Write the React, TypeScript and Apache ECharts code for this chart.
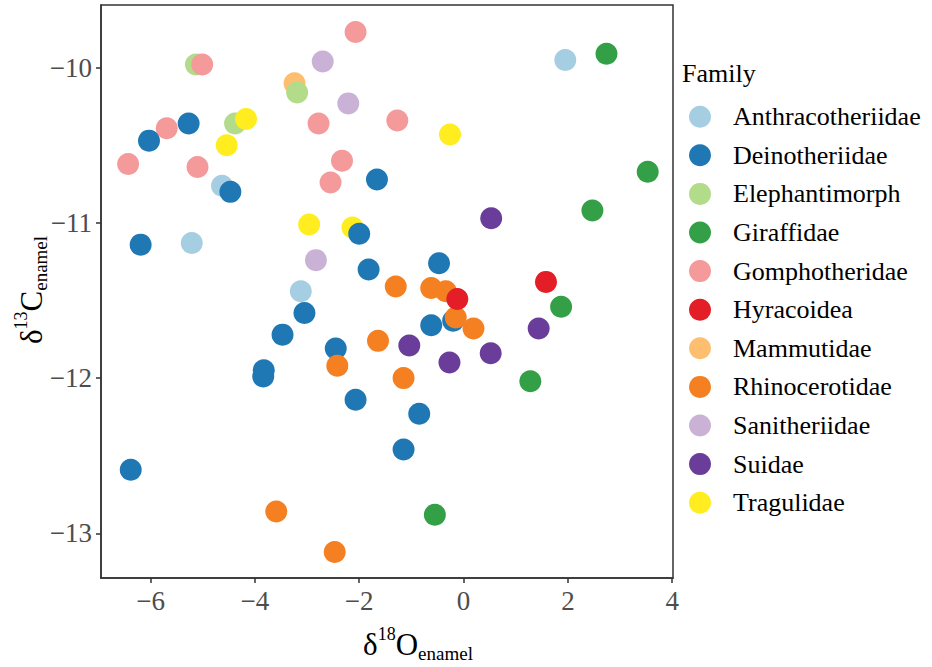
import React, { useEffect, useRef } from "react";
import * as echarts from "echarts";

const families = [
  "Anthracotheriidae",
  "Deinotheriidae",
  "Elephantimorph",
  "Giraffidae",
  "Gomphotheridae",
  "Hyracoidea",
  "Mammutidae",
  "Rhinocerotidae",
  "Sanitheriidae",
  "Suidae",
  "Tragulidae",
];

const colors: Record<string, string> = {
  Anthracotheriidae: "#A6CEE3",
  Deinotheriidae: "#1F78B4",
  Elephantimorph: "#B2DB8A",
  Giraffidae: "#33A047",
  Gomphotheridae: "#F59A9A",
  Hyracoidea: "#E31E26",
  Mammutidae: "#FDBF6F",
  Rhinocerotidae: "#F58021",
  Sanitheriidae: "#CAB2D6",
  Suidae: "#6A3D9A",
  Tragulidae: "#FFED1F",
};

// [d18O, d13C]
const anthracotheriidae = [[-4.63, -10.76], [-5.21, -11.13], [-3.12, -11.44], [1.95, -9.95]];
const deinotheriidae = [
  [-5.27, -10.36], [-6.03, -10.47], [-4.47, -10.8], [-1.66, -10.72], [-6.19, -11.14],
  [-2.0, -11.07], [-1.82, -11.3], [-0.47, -11.26], [-3.05, -11.58], [-3.47, -11.72],
  [-2.45, -11.81], [-3.83, -11.95], [-3.84, -11.99], [-2.07, -12.14], [-0.62, -11.66],
  [-0.2, -11.63], [-0.85, -12.23], [-1.15, -12.46], [-6.38, -12.59],
];
const elephantimorph = [[-5.13, -9.98], [-3.19, -10.16], [-4.38, -10.36]];
const giraffidae = [[2.74, -9.91], [3.53, -10.67], [2.47, -10.92], [1.87, -11.54], [1.28, -12.02], [-0.55, -12.88]];
const gomphotheridae = [
  [-5.01, -9.98], [-2.07, -9.77], [-2.78, -10.36], [-1.27, -10.34], [-5.69, -10.39],
  [-6.43, -10.62], [-5.1, -10.64], [-2.33, -10.6], [-2.55, -10.74],
];
const hyracoidea = [[1.58, -11.38], [-0.12, -11.49]];
const mammutidae = [[-3.24, -10.1]];
const rhinocerotidae = [
  [-1.3, -11.41], [-0.62, -11.42], [-0.34, -11.44], [-0.15, -11.61], [0.19, -11.68],
  [-1.64, -11.76], [-2.42, -11.92], [-1.15, -12.0], [-3.59, -12.86], [-2.47, -13.12],
];
const sanitheriidae = [[-2.7, -9.96], [-2.21, -10.23], [-2.83, -11.24]];
const suidae = [[0.53, -10.97], [1.44, -11.68], [-1.04, -11.79], [0.52, -11.84], [-0.27, -11.9]];
const tragulidae = [[-4.17, -10.33], [-4.54, -10.5], [-2.96, -11.01], [-2.13, -11.03], [-0.26, -10.43]];

const xTicks = [-6, -4, -2, 0, 2, 4];
const yTicks = [-13, -12, -11, -10];

// drawing order (later on top)
const drawOrder: [string, number[][]][] = [
  ["Anthracotheriidae", anthracotheriidae],
  ["Mammutidae", mammutidae],
  ["Elephantimorph", elephantimorph],
  ["Gomphotheridae", gomphotheridae],
  ["Sanitheriidae", sanitheriidae],
  ["Giraffidae", giraffidae],
  ["Suidae", suidae],
  ["Tragulidae", tragulidae],
  ["Deinotheriidae", deinotheriidae],
  ["Rhinocerotidae", rhinocerotidae],
  ["Hyracoidea", hyracoidea],
];

const FONT = "'Liberation Serif', 'Times New Roman', serif";
const fmt = (v: number) => String(v).replace("-", "\u2212");

const titleRich = {
  m: { fontSize: 31, fontFamily: FONT, color: "#000", lineHeight: 38 },
  sup: { fontSize: 18, fontFamily: FONT, color: "#000", lineHeight: 18, verticalAlign: "top" },
  sub: { fontSize: 19, fontFamily: FONT, color: "#000", lineHeight: 19, verticalAlign: "bottom" },
};

export default function App() {
  const ref = useRef<HTMLDivElement>(null);
  useEffect(() => {
    if (!ref.current) return;
    const chart = echarts.init(ref.current, null, { renderer: "svg" });
    chart.setOption({
      animation: false,
      backgroundColor: "#fff",
      grid: {
        left: 101,
        top: 5,
        width: 572,
        height: 573,
        show: true,
        borderColor: "#333",
        borderWidth: 1.5,
        backgroundColor: "transparent",
      },
      xAxis: {
        type: "value",
        min: -6.95,
        max: 4.015,
        splitLine: { show: false },
        axisLine: { show: true, onZero: false, lineStyle: { color: "#333", width: 1.5 } },
        axisTick: { show: true, length: 5, lineStyle: { color: "#333", width: 1.5 }, customValues: xTicks },
        axisLabel: {
          customValues: xTicks,
          formatter: fmt,
          fontFamily: FONT,
          fontSize: 27,
          color: "#4D4D4D",
          margin: 9,
        },
      },
      yAxis: {
        type: "value",
        min: -13.288,
        max: -9.596,
        splitLine: { show: false },
        axisLine: { show: true, onZero: false, lineStyle: { color: "#333", width: 1.5 } },
        axisTick: { show: true, length: 5, lineStyle: { color: "#333", width: 1.5 }, customValues: yTicks },
        axisLabel: {
          customValues: yTicks,
          formatter: fmt,
          fontFamily: FONT,
          fontSize: 27,
          color: "#4D4D4D",
          margin: 9,
        },
      },
      legend: {
        data: families,
        orient: "vertical",
        left: 689,
        top: 103.7,
        icon: "circle",
        itemWidth: 56,
        itemHeight: 22,
        itemGap: 12.6,
        padding: 0,
        selectedMode: false,
        textStyle: { fontFamily: FONT, fontSize: 26, color: "#000", lineHeight: 22, padding: 0 },
      },
      graphic: [
        {
          type: "text",
          left: 682,
          top: 60,
          style: { text: "Family", fontFamily: FONT, fontSize: 26, fill: "#000" },
        },
        {
          type: "text",
          x: 418,
          y: 644,
          style: {
            text: "{m|δ}{sup|18}{m|O}{sub|enamel}",
            rich: titleRich,
            align: "center",
            verticalAlign: "middle",
          },
        },
        {
          type: "text",
          x: 31,
          y: 290,
          rotation: Math.PI / 2,
          style: {
            text: "{m|δ}{sup|13}{m|C}{sub|enamel}",
            rich: titleRich,
            align: "center",
            verticalAlign: "middle",
          },
        },
      ],
      series: drawOrder.map(([name, data]) => ({
        name,
        type: "scatter",
        data,
        symbol: "circle",
        symbolSize: 22,
        itemStyle: { color: colors[name], opacity: 1 },
        emphasis: { disabled: true },
      })),
    });
    return () => chart.dispose();
  }, []);
  return (
    <div
      ref={ref}
      style={{ position: "absolute", left: 0, top: 0, width: 932, height: 667 }}
    />
  );
}
